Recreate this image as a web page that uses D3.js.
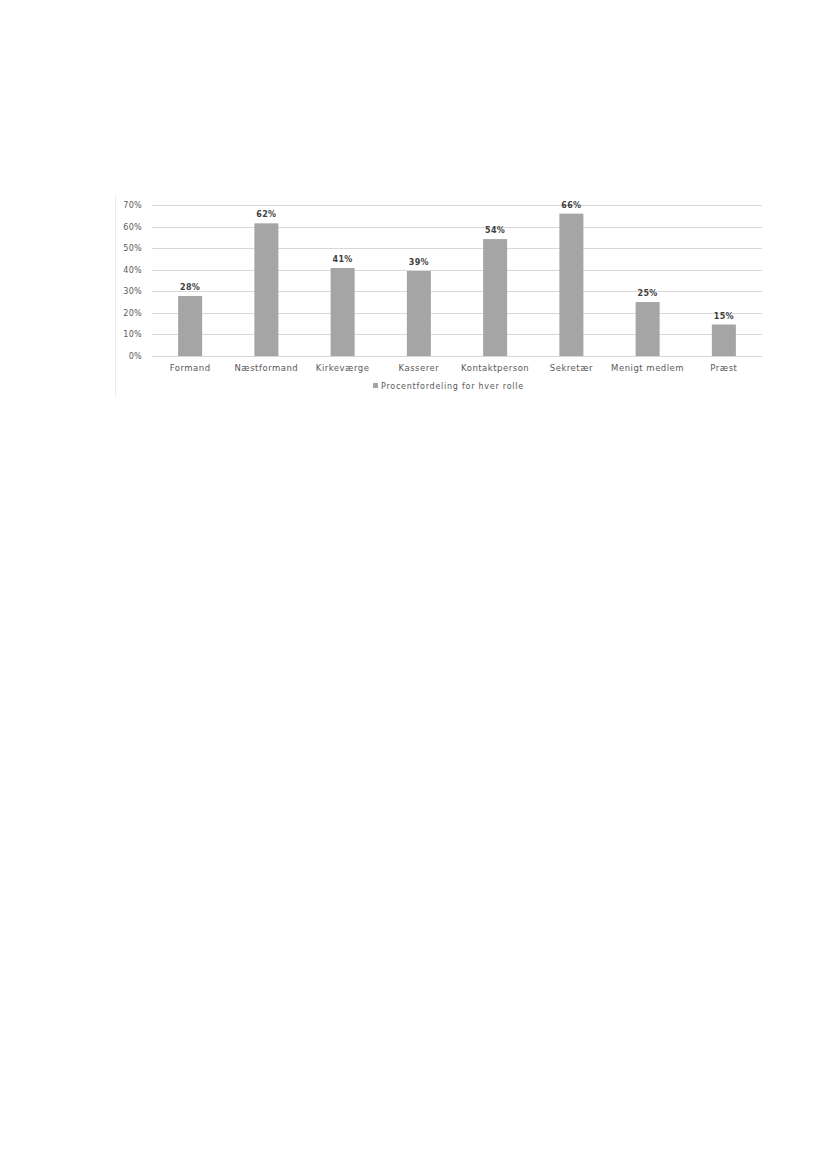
<!DOCTYPE html>
<html>
<head>
    <meta charset="utf-8">
    <script src="https://cdn.jsdelivr.net/npm/d3@7"></script>
    <style>
        body { margin: 0; background: #fff; }
        text { font-family: "DejaVu Sans", sans-serif; }
    </style>
</head>
<body>
    <svg width="827" height="1169" id="mainsvg"></svg>
    <script>
        // data
        const roles = ['Formand', 'Næstformand', 'Kirkeværge', 'Kasserer', 'Kontaktperson', 'Sekretær', 'Menigt medlem', 'Præst'];
        const shares = [0.278, 0.615, 0.408, 0.394, 0.542, 0.66, 0.25, 0.146];
        const labels = ['28%', '62%', '41%', '39%', '54%', '66%', '25%', '15%'];
        const yTicks = [0, 0.1, 0.2, 0.3, 0.4, 0.5, 0.6, 0.7];
        const seriesName = 'Procentfordeling for hver rolle';

        const svg = d3.select('svg');
        const margin = { left: 152, right: 65, top: 205, bottom: 813 };
        const plotW = 827 - margin.left - margin.right;
        const plotH = 1169 - margin.top - margin.bottom;

        // faint chart-area border on the left
        svg.append('line')
            .attr('x1', 115.5).attr('x2', 115.5)
            .attr('y1', 195).attr('y2', 397)
            .attr('stroke', '#ececec');

        const x = d3.scaleBand().domain(roles).range([0, plotW]).paddingInner(0.685).paddingOuter(0.3425);
        const y = d3.scaleLinear().domain([0, 0.7]).range([plotH, 0]);

        const g = svg.append('g').attr('transform', `translate(${margin.left},${margin.top})`);

        // gridlines
        g.selectAll('line.grid').data(yTicks).join('line')
            .attr('class', 'grid')
            .attr('x1', 0).attr('x2', plotW)
            .attr('y1', d => Math.round(y(d)) + 0.5).attr('y2', d => Math.round(y(d)) + 0.5)
            .attr('stroke', '#d9d9d9');

        // y axis labels
        const yAxis = d3.axisLeft(y).tickValues(yTicks).tickFormat(d3.format('.0%')).tickSize(0).tickPadding(10);
        g.append('g').call(yAxis)
            .call(a => a.select('.domain').remove())
            .selectAll('text')
            .attr('font-size', 8).attr('fill', '#595959').attr('font-family', '"DejaVu Sans", sans-serif')
            .attr('letter-spacing', 0.3);

        // x axis labels
        const xAxis = d3.axisBottom(x).tickSize(0).tickPadding(9);
        g.append('g').attr('transform', `translate(0,${plotH})`).call(xAxis)
            .call(a => a.select('.domain').remove())
            .selectAll('text')
            .attr('font-size', 8.5).attr('fill', '#595959').attr('font-family', '"DejaVu Sans", sans-serif')
            .attr('letter-spacing', 0.5);

        // bars
        g.selectAll('rect.bar').data(roles).join('rect')
            .attr('class', 'bar')
            .attr('x', d => x(d))
            .attr('width', x.bandwidth())
            .attr('y', (d, i) => y(shares[i]))
            .attr('height', (d, i) => plotH - y(shares[i]))
            .attr('fill', '#a5a5a5');

        // value labels
        g.selectAll('text.val').data(roles).join('text')
            .attr('class', 'val')
            .attr('x', d => x(d) + x.bandwidth() / 2)
            .attr('y', (d, i) => y(shares[i]) - 6)
            .attr('text-anchor', 'middle')
            .attr('font-size', 8)
            .attr('font-weight', 'bold')
            .attr('letter-spacing', 0.3)
            .attr('fill', '#404040')
            .text((d, i) => labels[i]);

        // legend
        const leg = svg.append('g').attr('transform', 'translate(373,383)');
        leg.append('rect').attr('width', 5).attr('height', 5).attr('fill', '#a5a5a5');
        leg.append('text').attr('x', 8).attr('y', 5.5)
            .attr('font-size', 8).attr('fill', '#595959')
            .attr('letter-spacing', 0.75)
            .text(seriesName);
    </script>
</body>
</html>
